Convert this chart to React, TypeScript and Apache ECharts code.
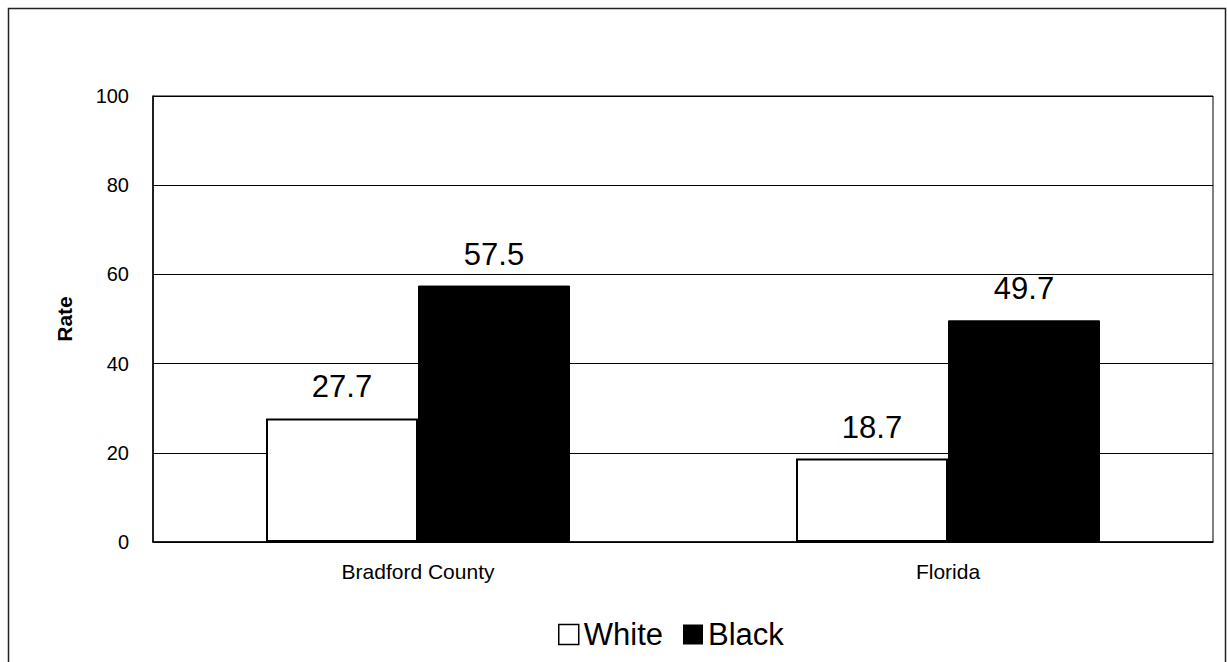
import React, { useEffect, useRef } from "react";
import * as echarts from "echarts";

const categories = ["Bradford County", "Florida"];
const whiteValues = [27.7, 18.7];
const blackValues = [57.5, 49.7];
const yTicks = { min: 0, max: 100, interval: 20 };

export default function App() {
  const ref = useRef<HTMLDivElement>(null);
  useEffect(() => {
    document.body.style.margin = "0";
    const chart = echarts.init(ref.current!, null, { renderer: "svg" });
    const font = "Liberation Sans, Arial, sans-serif";
    chart.setOption({
      animation: false,
      backgroundColor: "#fff",
      textStyle: { fontFamily: font },
      graphic: [
        {
          type: "rect",
          shape: { x: 8.5, y: 8.5, width: 1217, height: 660 },
          style: { fill: "none", stroke: "#222", lineWidth: 1.5 },
          silent: true,
        },
      ],
      grid: {
        left: 153,
        top: 96,
        right: 14,
        bottom: 120,
        show: true,
        borderColor: "#000",
        borderWidth: 1,
        backgroundColor: "transparent",
      },
      legend: {
        top: 614,
        left: 553,
        icon: "rect",
        itemWidth: 20,
        itemHeight: 20,
        itemGap: 20,
        textStyle: { fontSize: 31, color: "#000", fontFamily: font },
        data: [
          { name: "White", itemStyle: { color: "#fff", borderColor: "#000", borderWidth: 1.5 } },
          { name: "Black", itemStyle: { color: "#000", borderWidth: 0 } },
        ],
      },
      xAxis: {
        type: "category",
        data: categories,
        axisLine: { lineStyle: { color: "#000", width: 1.5 } },
        axisTick: { inside: true, length: 6, lineStyle: { color: "#000" } },
        axisLabel: { fontSize: 21, color: "#000", margin: 19, fontFamily: font },
      },
      yAxis: {
        type: "value",
        min: yTicks.min,
        max: yTicks.max,
        interval: yTicks.interval,
        name: "Rate",
        nameLocation: "middle",
        nameGap: 78,
        nameTextStyle: { fontSize: 21, fontWeight: "bold", color: "#000", fontFamily: font },
        axisLine: { show: true, lineStyle: { color: "#000", width: 1.5 } },
        axisTick: { show: false },
        axisLabel: { fontSize: 20, color: "#000", margin: 24, fontFamily: font },
        splitLine: { lineStyle: { color: "#000", width: 1 } },
      },
      series: [
        {
          name: "White",
          type: "bar",
          data: whiteValues,
          barWidth: 152,
          barGap: "0%",
          itemStyle: { color: "#fff", borderColor: "#000", borderWidth: 2 },
          label: { show: true, position: "top", distance: 16, fontSize: 31, color: "#000", fontFamily: font },
        },
        {
          name: "Black",
          type: "bar",
          data: blackValues,
          barWidth: 152,
          barGap: "0%",
          itemStyle: { color: "#000", borderColor: "#000", borderWidth: 1 },
          label: { show: true, position: "top", distance: 16, fontSize: 31, color: "#000", fontFamily: font },
        },
      ],
    });
    return () => chart.dispose();
  }, []);
  return <div ref={ref} style={{ width: 1227, height: 662 }} />;
}
